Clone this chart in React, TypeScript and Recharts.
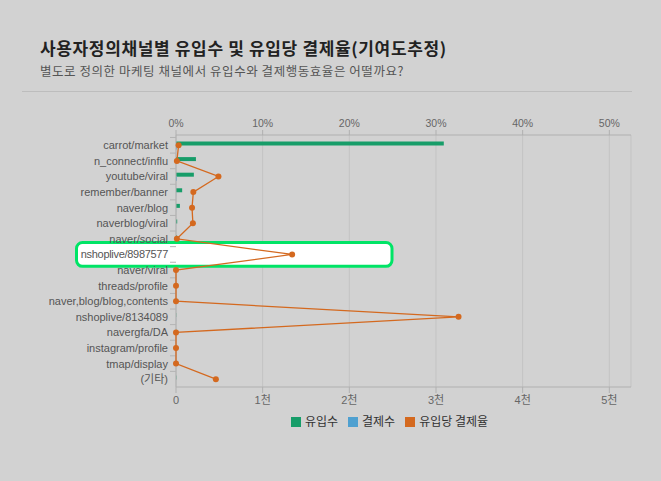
import React from 'react'
import {
  ComposedChart,
  Bar,
  Line,
  XAxis,
  YAxis,
  CartesianGrid,
  Legend,
  ReferenceArea,
} from 'recharts'

const channels = [
  'carrot/market',
  'n_connect/influ',
  'youtube/viral',
  'remember/banner',
  'naver/blog',
  'naverblog/viral',
  'naver/social',
  'nshoplive/8987577',
  'naver/viral',
  'threads/profile',
  'naver,blog/blog,contents',
  'nshoplive/8134089',
  'navergfa/DA',
  'instagram/profile',
  'tmap/display',
  '(기타)',
]
const inflow = [3090, 230, 206, 71, 45, 14, 10, 7, 2, 2, 2, 3, 2, 2, 2, 4]
const payments = [9, 0.2, 10, 1.4, 0.8, 0.3, 0, 0.9, 0, 0, 0, 1, 0, 0, 0, 0.2]
const rate = [0.3, 0.1, 4.9, 2.0, 1.85, 1.95, 0.1, 13.4, 0, 0, 0, 32.6, 0, 0, 0, 4.6]

const countTicks = [0, 1000, 2000, 3000, 4000, 5000]
const rateTicks = [0, 10, 20, 30, 40, 50]
const seriesOrder = ['유입수', '결제수', '유입당 결제율']
const highlighted = 'nshoplive/8987577'

const data = channels.map((name, i) => ({
  name,
  inflow: inflow[i],
  payments: payments[i],
  rate: rate[i],
}))

const GREEN = '#179d69'
const BLUE = '#4fa0d0'
const ORANGE = '#d4691f'
const LABEL_FONT = '"Liberation Sans", "Noto Sans CJK KR", sans-serif'

// category label with a small tick on the band edge
// (the highlighted channel gets its label from the highlight box instead)
const ChannelTick = (props: any) => {
  const { x, y, payload } = props
  return (
    <g>
      <line x1={x + 2} x2={x + 8} y1={y - 7.8} y2={y - 7.8} stroke="#b4b4b4" />
      {payload.value !== highlighted && (
        <text x={x} y={y} dy="0.355em" textAnchor="end" fontSize={11} fill="#555" fontFamily={LABEL_FONT}>
          {payload.value}
        </text>
      )}
    </g>
  )
}

const HighlightBox = (props: any) => {
  const { x, y, height } = props
  const cy = y + height / 2
  return (
    <g>
      <rect x={x - 99.5} y={cy - 11.9} width={315.5} height={23.8} rx={6} fill="#ffffff" stroke="#00e466" strokeWidth={3} />
      <text
        x={x - 8}
        y={cy}
        dy="0.355em"
        textAnchor="end"
        fontSize={11}
        letterSpacing={-0.3}
        fill="#555"
        fontFamily={LABEL_FONT}
      >
        {highlighted}
      </text>
    </g>
  )
}

export default function App() {
  return (
    <div
      style={{
        position: 'fixed',
        top: 0,
        left: 0,
        width: 661,
        height: 481,
        background: '#d2d2d2',
        fontFamily: '"Noto Sans CJK KR", sans-serif',
        overflow: 'hidden',
      }}
    >
      <div
        style={{
          position: 'absolute',
          left: 40,
          top: 35,
          fontSize: 17,
          letterSpacing: 0.65,
          fontWeight: 700,
          color: '#222',
          whiteSpace: 'nowrap',
        }}
      >
        사용자정의채널별 유입수 및 유입당 결제율(기여도추정)
      </div>
      <div
        style={{
          position: 'absolute',
          left: 40,
          top: 61,
          fontSize: 12.5,
          letterSpacing: 0.55,
          color: '#555',
          whiteSpace: 'nowrap',
        }}
      >
        별도로 정의한 마케팅 채널에서 유입수와 결제행동효율은 어떨까요?
      </div>
      <div style={{ position: 'absolute', left: 22, top: 91, width: 610, height: 1, background: '#bdbdbd' }} />
      <div style={{ position: 'absolute', left: 0, top: 0 }}>
        <ComposedChart
          width={661}
          height={481}
          data={data}
          layout="vertical"
          margin={{ top: 105, right: 30, bottom: 40, left: 0 }}
          barGap={0}
        >
          <CartesianGrid xAxisId="count" horizontal={false} stroke="#c3c3c3" />
          <XAxis
            xAxisId="rate"
            type="number"
            orientation="top"
            domain={[0, 52.5]}
            ticks={rateTicks}
            tickFormatter={(v) => `${v}%`}
            height={30}
            tickSize={5}
            tickMargin={3}
            stroke="#b0b0b0"
            tick={{ fontSize: 10.5, fill: '#666', fontFamily: LABEL_FONT }}
          />
          <XAxis
            xAxisId="count"
            type="number"
            domain={[0, 5250]}
            ticks={countTicks}
            tickFormatter={(v) => (v === 0 ? '0' : `${v / 1000}천`)}
            height={30}
            tickSize={6}
            tickMargin={3}
            stroke="#b0b0b0"
            tick={{ fontSize: 11, fill: '#666', fontFamily: LABEL_FONT }}
          />
          <YAxis
            type="category"
            dataKey="name"
            width={176}
            interval={0}
            tickLine={false}
            padding={{ top: 2.5, bottom: 0 }}
            stroke="#b0b0b0"
            tick={<ChannelTick />}
          />
          <Bar xAxisId="count" dataKey="inflow" name="유입수" fill={GREEN} barSize={4} legendType="square" isAnimationActive={false} />
          <Bar xAxisId="count" dataKey="payments" name="결제수" fill={BLUE} barSize={4} legendType="square" isAnimationActive={false} />
          <ReferenceArea xAxisId="count" y1={highlighted} y2={highlighted} shape={<HighlightBox />} zIndex={550} />
          <Line
            xAxisId="rate"
            dataKey="rate"
            name="유입당 결제율"
            stroke={ORANGE}
            strokeWidth={1.3}
            dot={{ r: 3, fill: ORANGE, stroke: 'none' }}
            legendType="square"
            isAnimationActive={false}
            zIndex={2600}
          />
          <Legend
            iconSize={10}
            itemSorter={(item: any) => seriesOrder.indexOf(item.value)}
            formatter={(value) => <span style={{ color: '#333', fontSize: 12 }}>{value}</span>}
            wrapperStyle={{ bottom: 50, left: 176, width: 437 }}
          />
        </ComposedChart>
      </div>
    </div>
  )
}
